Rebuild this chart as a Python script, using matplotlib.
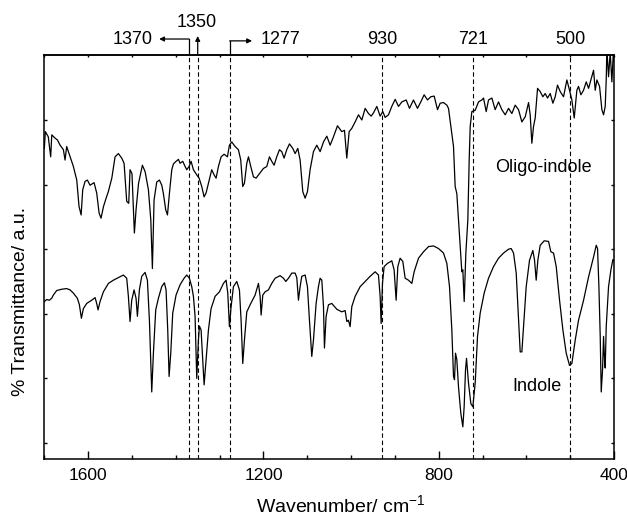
import matplotlib
matplotlib.use("Agg")
import matplotlib.pyplot as plt
from matplotlib.ticker import MultipleLocator, NullFormatter

plt.rcParams['font.family'] = ['Liberation Sans', 'DejaVu Sans']
plt.rcParams['mathtext.fontset'] = 'custom'
plt.rcParams['mathtext.rm'] = 'Liberation Sans'

# ---------------- data ----------------
oligo_wn = [1700, 1697.6, 1691, 1685.5, 1683, 1675.6, 1670, 1664, 1656.5, 1652.7, 1649, 1641,
            1633.7, 1626, 1620.8, 1616, 1612.4, 1607, 1601.7, 1595.7, 1586.5, 1580.5, 1575, 1570.6,
            1565, 1559, 1554, 1546, 1538.6, 1531, 1523.4, 1518, 1512, 1507.4, 1504.4, 1500,
            1494.5, 1490.7, 1485, 1476.2, 1470, 1462.5, 1457, 1454.1, 1453.4, 1449.6, 1443.5,
            1437.4, 1432, 1428.3, 1423, 1419, 1414.6, 1409.2, 1405.4, 1399.4, 1394, 1390.2, 1384.1,
            1378.8, 1375, 1369.7, 1365.1, 1359.8, 1352.2, 1346.8, 1340.8, 1335.4, 1330.9, 1325.5,
            1318, 1312.6, 1308, 1302.7, 1296.6, 1289.8, 1282.2, 1277.6, 1272.3, 1264.7, 1257.1,
            1251.8, 1247.2, 1243.4, 1238, 1234.2, 1228.9, 1222.8, 1216.8, 1209.1, 1200, 1192.4,
            1186.3, 1181, 1175.7, 1169.6, 1163.5, 1158.2, 1152.9, 1146.8, 1140.6, 1133, 1127.7,
            1121.6, 1116.3, 1110.2, 1104.9, 1099.6, 1093.5, 1085.9, 1078.3,
            1070.6, 1063, 1055.4, 1047.8, 1040.2, 1031.1, 1021.2, 1015.1, 1009.8, 1004.4, 998.4,
            990.8, 983.1, 975.5, 967.9, 960.3, 954.2, 948.9, 941.3, 933.7, 927.6, 922.3, 914.7,
            907.1, 899.4, 891.8, 884.2, 874.3, 866.7, 857.6, 848.5, 840.9, 833.3, 825.6, 818,
            810.4, 802.8, 796.7, 789.1, 781.5, 777.7, 772.4, 766.3, 762.5, 758.7, 754.9,
            747.3, 745, 741.9, 738.1, 733.6, 730.5, 728.2, 724.4, 716.8, 709.2, 701.6, 697.8,
            691.7, 686.4, 678.8, 671.2, 663.6, 656, 648.3, 640.7, 633.1, 625.5, 617.9, 610.3,
            602.6, 595, 591.3, 587.5, 583.7, 579.9, 574.5, 568.5, 562.4, 557.1, 551.7, 545.6,
            539.5, 534.2, 529, 522.8, 515.2, 507.6, 501.5, 496.2, 490.8, 484.8, 481, 475.6,
            469.6, 463.4, 458.1, 452.8, 446.7, 442.9, 439.1, 433, 427.7, 423.9, 420.1, 417.8,
            416.3, 412.5, 408.7, 404.9, 401.1, 400]
oligo_t = [4.56, 4.82, 4.74, 4.43, 4.77, 4.72, 4.69, 4.61, 4.54, 4.38, 4.59, 4.43,
           4.28, 4.07, 3.66, 3.53, 3.92, 4.05, 4.07, 3.99, 4.03, 3.87, 3.56, 3.48,
           3.66, 3.79, 3.89, 4.10, 4.43, 4.48, 4.41, 4.33, 3.74, 3.71, 4.23, 4.17,
           3.25, 3.61, 4.02, 4.30, 4.20, 3.92, 3.45, 2.83, 2.70, 3.76, 4.04,
           4.07, 3.99, 3.86, 3.61, 3.53, 3.86, 4.23, 4.32, 4.36, 4.39, 4.33, 4.36,
           4.28, 4.23, 4.28, 4.36, 4.23, 4.15, 4.10, 3.97, 3.81, 3.87, 4.02,
           4.23, 4.15, 4.10, 4.28, 4.43, 4.47, 4.43, 4.61, 4.66, 4.59, 4.54,
           4.38, 3.97, 4.02, 4.33, 4.43, 4.28, 4.12, 4.10, 4.17, 4.25, 4.28,
           4.43, 4.36, 4.30, 4.43, 4.54, 4.51, 4.41, 4.54, 4.63, 4.56, 4.48,
           4.56, 4.38, 3.89, 3.79, 3.89, 4.23, 4.51, 4.61,
           4.51, 4.66, 4.75, 4.61, 4.74, 4.91, 4.82, 4.84, 4.41, 4.82, 4.87,
           4.97, 5.08, 5.00, 5.18, 5.10, 5.06, 5.11, 5.21, 5.06, 5.13, 5.04, 5.08,
           5.21, 5.32, 5.21, 5.28, 5.31, 5.18, 5.31, 5.18, 5.28, 5.39, 5.31, 5.36,
           5.37, 5.16, 5.26, 5.27, 5.23, 5.18, 4.90, 4.59, 3.97, 3.86, 3.45,
           2.65, 2.68, 2.19, 2.94, 3.45, 4.38, 4.90, 5.13, 5.15, 5.28, 5.31, 5.34,
           5.13, 5.31, 5.34, 5.16, 5.28, 5.16, 5.08, 5.18, 5.10, 5.23, 5.16, 4.97,
           5.05, 5.27, 5.08, 4.64, 4.90, 5.03, 5.49, 5.44, 5.36, 5.41, 5.34, 5.41,
           5.26, 5.36, 5.54, 5.44, 5.36, 5.62, 5.46, 5.31, 5.03, 5.46, 5.52, 5.39,
           5.46, 5.59, 5.49, 5.62, 5.77, 5.46, 5.62, 5.52, 5.16, 5.08, 5.21, 5.62,
           6.1, 5.67, 6.05, 5.59, 6.1, 5.9]

indole_wn = [1699.9, 1694.6, 1688.5, 1683.2, 1679.4, 1671.8, 1660.3, 1648.9, 1641.3, 1633.7,
             1624.6, 1620, 1615.4, 1610.9, 1603.3, 1591.9, 1584.2, 1580.5, 1577.4, 1572.8,
             1565.2, 1553.8, 1542.4, 1531, 1519.6, 1512, 1508.2, 1504.4, 1500.6, 1495.2,
             1490.7, 1487.6, 1483.1, 1477.7, 1470.1, 1464.8, 1460.2, 1454.9, 1451.1, 1445.8,
             1439.7, 1432.1, 1426, 1422.2, 1418.4, 1415.3, 1411.5, 1407, 1399.4, 1390.2,
             1381.1, 1375, 1369, 1363.6, 1359.8, 1356, 1352.2, 1348.4, 1346.1, 1342.3,
             1335.4, 1330.9, 1325.5, 1319.5, 1310.3, 1300.4, 1291.3, 1285.2, 1281.4, 1277.6,
             1273.8, 1268.5, 1260.9, 1254.8, 1251, 1247.2, 1243.4, 1238, 1228.9, 1219,
             1211.4, 1207.6, 1205.3, 1201.5, 1196.2, 1188.6, 1181, 1173.4, 1162, 1154.3,
             1149, 1142.9, 1135.3, 1127.7, 1123.9, 1120.1, 1116.3, 1112.5, 1104.9, 1099.6,
             1095, 1089.7, 1085.9, 1079.8, 1074.5, 1070.7,
             1066.8, 1063, 1060.8, 1057, 1051.6, 1044, 1032.6, 1021.2, 1013.6, 1009.8,
             1006, 1002.2, 998.4, 990.8, 979.3, 967.9, 956.5, 945.1, 937.5, 933.7,
             931.4, 928.4, 924.6, 917, 907.1, 901.8, 897.2, 893.4, 888.1, 882,
             876.6, 869, 861.4, 856.1, 846.2, 834.7, 823.3, 811.9, 800.5, 789.1,
             781.5, 775.4, 770.1, 766.3, 764, 761.7, 758.7, 754.9, 749.6, 745,
             742, 738.9, 736.6, 732.1, 726.7, 722.2, 716.8, 711.5, 705.4, 696.3,
             686.4, 675, 663.6, 652.2, 640.7, 634.7, 629.3, 623.2, 617.9, 614.1,
             610.3, 606.5, 600.4, 592.8, 585.2, 581.4, 577.6, 573.8, 568.5, 559.3,
             549.4, 544.1, 538, 531.9, 524.3, 516.7, 509.1, 501.5, 496.2, 488.6,
             481, 469.5, 458.1, 446.7, 440.6, 437.6, 434.5, 431.5, 429.2, 426.2,
             423.9, 421.6, 420.1, 417.8, 412.5, 407.1, 402.6, 399.5]
indole_t = [2.19, 2.22, 2.21, 2.24, 2.29, 2.36, 2.38, 2.39, 2.37, 2.32,
            2.24, 2.14, 1.93, 2.08, 2.16, 2.21, 2.25, 2.16, 2.06, 2.19,
            2.34, 2.47, 2.52, 2.56, 2.60, 2.55, 2.27, 1.88, 2.21, 2.37,
            2.24, 1.96, 2.37, 2.58, 2.64, 2.52, 1.90, 0.79, 1.39, 2.06,
            2.24, 2.42, 2.48, 2.37, 1.75, 1.03, 1.39, 2.01, 2.29, 2.45,
            2.55, 2.60, 2.55, 2.42, 2.27, 1.96, 1.00, 1.59, 1.81, 1.75,
            0.90, 1.29, 1.75, 2.08, 2.27, 2.34, 2.47, 2.52, 2.32, 1.80,
            2.11, 2.42, 2.50, 2.37, 1.90, 1.23, 1.59, 2.03, 2.16, 2.29,
            2.47, 2.27, 1.98, 2.29, 2.34, 2.37, 2.47, 2.55, 2.59, 2.55,
            2.50, 2.55, 2.63, 2.63, 2.56, 2.21, 2.42, 2.58, 2.60, 2.42,
            1.90, 1.34, 1.59, 2.16, 2.42, 2.55,
            2.52, 2.11, 1.47, 1.96, 2.14, 2.16, 2.07, 2.03, 2.05, 1.88,
            1.90, 1.80, 2.11, 2.27, 2.42, 2.50, 2.58, 2.65, 2.60, 2.27,
            1.85, 2.47, 2.73, 2.78, 2.82, 2.68, 2.21, 2.73, 2.86, 2.81,
            2.55, 2.52, 2.47, 2.65, 2.86, 2.96, 3.04, 3.05, 3.01, 2.94,
            2.78, 2.42, 1.75, 1.03, 0.98, 1.39, 1.29, 0.87, 0.46, 0.25,
            0.56, 1.13, 1.31, 0.93, 0.61, 0.56, 0.93, 1.65, 2.01, 2.32,
            2.55, 2.73, 2.86, 2.94, 3.00, 3.01, 2.94, 2.63, 1.90, 1.41,
            1.41, 1.80, 2.42, 2.83, 2.98, 2.83, 2.52, 2.83, 3.06, 3.13,
            3.12, 2.96, 2.94, 2.73, 2.21, 1.75, 1.39, 1.20, 1.23, 1.59,
            1.90, 2.21, 2.57, 2.88, 3.06, 3.01, 2.42, 1.65, 0.79, 1.13,
            1.65, 1.28, 1.16, 1.80, 2.42, 2.68, 2.84, 2.81]

marked_wn = [1370, 1350, 1277, 930, 721, 500]
marked_labels = ['1370', '1350', '1277', '930', '721', '500']
x_ticks = [1600, 1200, 800, 400]

# ---------------- figure ----------------
fig = plt.figure(figsize=(6.27, 5.17), dpi=100)
ax = fig.add_axes([0.0707, 0.1122, 0.9086, 0.7814])

ax.plot(oligo_wn, oligo_t, color='black', lw=0.9)
ax.plot(indole_wn, indole_t, color='black', lw=0.9)

ax.set_xlim(1700, 400)
ax.set_ylim(-0.248, 6.006)

for w in marked_wn:
    ax.axvline(w, color='black', lw=0.8, ls=(0, (4, 2.5)))

ax.set_xticks(x_ticks)
ax.xaxis.set_minor_locator(MultipleLocator(100))
ax.set_yticks([0, 1, 2, 3, 4, 5])
ax.yaxis.set_major_formatter(NullFormatter())
ax.tick_params(axis='x', which='major', direction='in', length=5.8, width=1.0,
               labelsize=12.5, pad=6.5, top=False)
ax.tick_params(axis='x', which='minor', direction='in', length=2.9, width=1.0, top=False)
ax.tick_params(axis='y', which='major', direction='in', length=2.2, width=1.0,
               left=True, right=True)
top = ax.secondary_xaxis('top')
top.xaxis.set_major_locator(MultipleLocator(100))
top.tick_params(direction='in', length=1.5, width=1.0, labeltop=False)
for s in ax.spines.values():
    s.set_linewidth(1.1)
top.spines['top'].set_linewidth(1.1)

ax.set_xlabel('Wavenumber/ cm$^{\\mathregular{-1}}$', fontsize=14)
ax.xaxis.label.set_va('center')
ax.xaxis.set_label_coords(0.52, -0.116)
ax.set_ylabel('% Transmittance/ a.u.', fontsize=14)
ax.yaxis.label.set_va('center')
ax.yaxis.set_label_coords(-0.0427, 0.391)

ax.text(561.7, 4.27, 'Oligo-indole', fontsize=13, ha='center', va='center')
ax.text(575.4, 0.87, 'Indole', fontsize=13, ha='center', va='center')

# ---------------- top annotations ----------------
tr = ax.get_xaxis_transform()
ylev = 1.0396
# 1370 : bracket to the left
ax.plot([1370, 1370], [1.0, ylev], color='black', lw=0.9, transform=tr, clip_on=False)
ax.annotate('', xy=(1438, ylev), xycoords=tr, xytext=(1370, ylev), textcoords=tr,
            arrowprops=dict(arrowstyle='-|>', color='black', lw=0.9,
                            mutation_scale=7, shrinkA=0, shrinkB=0))
ax.text(1452, ylev, marked_labels[0], transform=tr, fontsize=13, ha='right', va='center')
# 1350 : arrow up
ax.annotate('', xy=(1350, 1.047), xycoords=tr, xytext=(1350, 1.0), textcoords=tr,
            arrowprops=dict(arrowstyle='-|>', color='black', lw=0.9,
                            mutation_scale=7, shrinkA=0, shrinkB=0))
ax.text(1352, 1.08, marked_labels[1], transform=tr, fontsize=13, ha='center', va='center')
# 1277 : bracket to the right
ylev2 = 1.035
ax.plot([1277, 1277], [1.0, ylev2], color='black', lw=0.9, transform=tr, clip_on=False)
ax.annotate('', xy=(1226, ylev2), xycoords=tr, xytext=(1277, ylev2), textcoords=tr,
            arrowprops=dict(arrowstyle='-|>', color='black', lw=0.9,
                            mutation_scale=7, shrinkA=0, shrinkB=0))
ax.text(1206, ylev, marked_labels[2], transform=tr, fontsize=13, ha='left', va='center')
for w, lab in zip(marked_wn[3:], marked_labels[3:]):
    ax.text(w, ylev, lab, transform=tr, fontsize=13, ha='center', va='center')

fig.savefig('out.png', dpi=100)
